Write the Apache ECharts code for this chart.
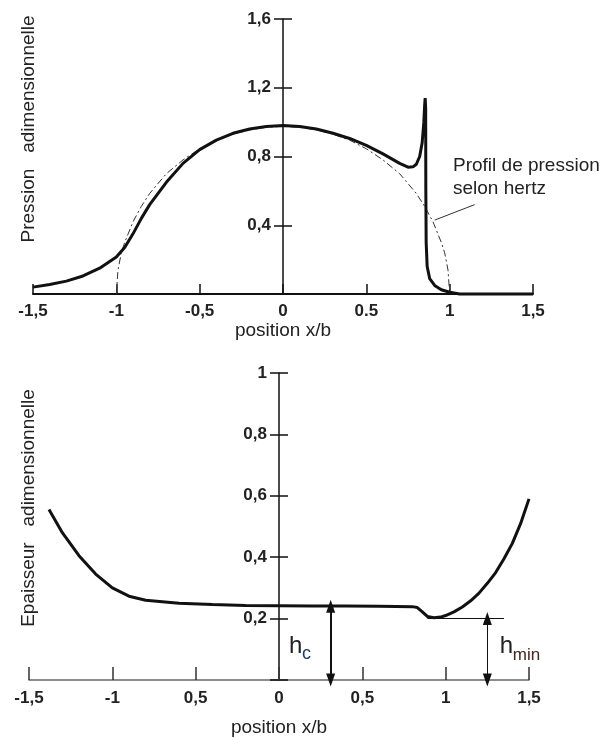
<!DOCTYPE html>
<html><head><meta charset="utf-8">
<script src="https://cdn.jsdelivr.net/npm/echarts@6/dist/echarts.min.js"></script>
<style>html,body{margin:0;padding:0;background:#fff}#c{width:605px;height:738px}</style>
</head><body><div id="c"></div>
<script>
// ---- tick labels ----
const xTickLabelsTop = ['-1,5','-1','-0,5','0','0.5','1','1,5'];
const yTickLabelsTop = ['','0,4','0,8','1,2','1,6'];
const xTickLabelsBottom = ['-1,5','-1','0,5','0','0,5','1','1,5'];
const yTickLabelsBottom = ['','0,2','0,4','0,6','0,8','1'];

// ---- top chart: EHL pressure ----
const ehlX = [-1.5,-1.4,-1.3,-1.2,-1.1,-1.0,-0.95,-0.9,-0.85,-0.8,-0.7,-0.6,-0.5,-0.4,-0.3,-0.2,-0.1,0,0.1,0.2,0.3,0.4,0.5,0.6,0.7,0.75,0.78,0.8,0.82,0.835,0.845,0.85,0.853,0.856,0.857,0.859,0.865,0.88,0.91,0.95,1.0,1.06,1.5];
const ehlP = [0.04,0.055,0.075,0.105,0.15,0.215,0.27,0.35,0.44,0.52,0.65,0.76,0.84,0.895,0.935,0.96,0.975,0.98,0.975,0.96,0.935,0.905,0.865,0.815,0.76,0.738,0.74,0.755,0.8,0.88,1.0,1.1,1.14,1.08,0.6,0.3,0.16,0.09,0.05,0.025,0.01,0,0];

// ---- top chart: Hertz pressure ----
const hertzX = [-1,-0.99,-0.97,-0.95,-0.9,-0.85,-0.8,-0.7,-0.6,-0.5,-0.4,-0.3,-0.2,-0.1,0,0.1,0.2,0.3,0.4,0.5,0.6,0.7,0.8,0.85,0.9,0.95,0.97,0.99,1];
const hertzP = [0,0.14,0.24,0.3,0.42,0.51,0.585,0.7,0.78,0.845,0.895,0.93,0.955,0.97,0.975,0.97,0.955,0.93,0.895,0.845,0.78,0.7,0.585,0.51,0.42,0.3,0.24,0.14,0];

// ---- bottom chart: film thickness ----
const filmX = [-1.38,-1.3,-1.2,-1.1,-1.0,-0.9,-0.8,-0.6,-0.4,-0.2,0,0.2,0.4,0.6,0.8,0.83,0.86,0.89,0.93,0.97,1.0,1.05,1.1,1.15,1.2,1.25,1.3,1.35,1.4,1.45,1.5];
const filmH = [0.555,0.48,0.405,0.345,0.3,0.273,0.26,0.25,0.246,0.243,0.242,0.241,0.241,0.24,0.239,0.236,0.222,0.207,0.203,0.205,0.21,0.222,0.238,0.258,0.283,0.315,0.35,0.395,0.445,0.51,0.59];

// ---- annotations (data coordinates) ----
const hcX = 0.31, hcValue = 0.24;
const hminX = 1.25, hminValue = 0.2;
const hminLineX = [0.89, 1.35];
const leaderFrom = [0.91, 0.43], leaderTo = [1.15, 0.52];

const FONT = 'Liberation Sans, Arial, sans-serif';
const zip = (xs, ys) => xs.map((x, i) => [x, ys[i]]);
const lab = (arr, min, step) => v => { const i = Math.round((v - min) / step); return arr[i] !== undefined ? arr[i] : ''; };

const tickLabelStyle = { fontFamily: FONT, fontSize: 17, fontWeight: 'bold', color: '#222' };
const GRID = [
  { left: 33, right: 72, top: 19, bottom: 444, containLabel: false, outerBoundsMode: 'none' },
  { left: 29, right: 76, top: 373, bottom: 58, containLabel: false, outerBoundsMode: 'none' }
];

function yPair(gridIndex, max, interval, labels) {
  return [
    { type: 'value', gridIndex, position: 'left', min: 0, max, interval,
      axisLine: { show: true, onZero: false, lineStyle: { color: '#111', width: 1.5 } },
      axisTick: { show: true, inside: false, length: 9, lineStyle: { color: '#111', width: 1.5 } },
      axisLabel: Object.assign({ margin: 12, formatter: lab(labels, 0, interval) }, tickLabelStyle),
      splitLine: { show: false } },
    { type: 'value', gridIndex, position: 'left', min: 0, max, interval,
      axisLine: { show: false, onZero: false },
      axisTick: { show: true, inside: true, length: 9, lineStyle: { color: '#111', width: 1.5 } },
      axisLabel: { show: false }, splitLine: { show: false } }
  ];
}

const chart = echarts.init(document.getElementById('c'), null, { renderer: 'canvas' });
const option = {
  animation: false,
  backgroundColor: '#fff',
  grid: GRID,
  xAxis: [
    { type: 'value', gridIndex: 0, min: -1.5, max: 1.5, interval: 0.5,
      axisLine: { onZero: false, lineStyle: { color: '#111', width: 2 } },
      axisTick: { inside: true, length: 10, lineStyle: { color: '#111', width: 1.5 } },
      axisLabel: Object.assign({ margin: 9, formatter: lab(xTickLabelsTop, -1.5, 0.5) }, tickLabelStyle),
      splitLine: { show: false },
      name: 'position x/b', nameLocation: 'middle', nameGap: 27,
      nameTextStyle: { fontFamily: FONT, fontSize: 19, color: '#222' } },
    { type: 'value', gridIndex: 1, min: -1.5, max: 1.5, interval: 0.5,
      axisLine: { onZero: false, lineStyle: { color: '#666', width: 1.5 } },
      axisTick: { inside: true, length: 13, lineStyle: { color: '#333', width: 1.5 } },
      axisLabel: Object.assign({ margin: 10, formatter: lab(xTickLabelsBottom, -1.5, 0.5) }, tickLabelStyle),
      splitLine: { show: false },
      name: 'position x/b', nameLocation: 'middle', nameGap: 38,
      nameTextStyle: { fontFamily: FONT, fontSize: 19, color: '#222' } }
  ],
  yAxis: [].concat(yPair(0, 1.6, 0.4, yTickLabelsTop), yPair(1, 1, 0.2, yTickLabelsBottom)),
  series: [
    { type: 'line', name: 'hertz', xAxisIndex: 0, yAxisIndex: 0, data: zip(hertzX, hertzP),
      showSymbol: false, clip: false, z: 2,
      lineStyle: { color: '#333', width: 1, type: [7, 3, 2, 3] } },
    { type: 'line', name: 'ehl', xAxisIndex: 0, yAxisIndex: 0, data: zip(ehlX, ehlP),
      showSymbol: false, clip: false, z: 3,
      lineStyle: { color: '#111', width: 3 },
      markLine: { silent: true, symbol: ['none', 'none'], label: { show: false },
        lineStyle: { color: '#333', width: 1, type: 'solid' },
        data: [[{ coord: leaderFrom }, { coord: leaderTo }]] } },
    { type: 'line', name: 'film', xAxisIndex: 1, yAxisIndex: 2, data: zip(filmX, filmH),
      showSymbol: false, clip: false, z: 3,
      lineStyle: { color: '#111', width: 3 },
      markLine: { silent: true, label: { show: false }, symbol: ['none', 'none'],
        data: [
          [{ coord: [hcX, 0], symbol: 'triangle', symbolSize: [9, 13], lineStyle: { color: '#111', width: 2, type: 'solid' } },
           { coord: [hcX, hcValue], symbol: 'triangle', symbolSize: [9, 13] }],
          [{ coord: [hminX, 0], symbol: 'triangle', symbolSize: [9, 13], lineStyle: { color: '#111', width: 1, type: 'solid' } },
           { coord: [hminX, hminValue], symbol: 'triangle', symbolSize: [9, 13] }],
          [{ coord: [hminLineX[0], hminValue], lineStyle: { color: '#111', width: 1.2, type: 'solid' } },
           { coord: [hminLineX[1], hminValue] }]
        ] } }
  ]
};
chart.setOption(option);

// move the y axes onto x = 0 of each chart
const x0Top = chart.convertToPixel({ xAxisIndex: 0 }, 0);
const x0Bot = chart.convertToPixel({ xAxisIndex: 1 }, 0);
const offTop = GRID[0].left - x0Top, offBot = GRID[1].left - x0Bot;
chart.setOption({ yAxis: [{ offset: offTop }, { offset: offTop }, { offset: offBot }, { offset: offBot }] });

// annotations positioned from the axes
const P = (g, x, y) => chart.convertToPixel({ gridIndex: g }, [x, y]);
const hcPos = P(1, 0.06, 0.1);
const hminPos = P(1, 1.325, 0.1);
const profPos = P(0, 1.02, 0.68);
chart.setOption({
  graphic: [
    { type: 'text', x: 29, y: 129, rotation: Math.PI / 2,
      style: { text: 'Pression   adimensionnelle', fontFamily: FONT, fontSize: 19, fill: '#222', align: 'center', verticalAlign: 'middle' } },
    { type: 'text', x: 29, y: 508, rotation: Math.PI / 2,
      style: { text: 'Epaisseur   adimensionnelle', fontFamily: FONT, fontSize: 19, fill: '#222', align: 'center', verticalAlign: 'middle' } },
    { type: 'text', x: profPos[0], y: profPos[1],
      style: { text: 'Profil de pression\nselon hertz', fontFamily: FONT, fontSize: 19, lineHeight: 23, fill: '#222', align: 'left', verticalAlign: 'middle' } },
    { type: 'text', x: hcPos[0], y: hcPos[1] - 3,
      style: { text: 'h', fontFamily: FONT, fontSize: 24, fill: '#222', align: 'left', verticalAlign: 'middle' } },
    { type: 'text', x: hcPos[0] + 13, y: hcPos[1] + 5,
      style: { text: 'c', fontFamily: FONT, fontSize: 18, fill: '#1f3a6e', align: 'left', verticalAlign: 'middle' } },
    { type: 'text', x: hminPos[0], y: hminPos[1] - 3,
      style: { text: 'h', fontFamily: FONT, fontSize: 24, fill: '#222', align: 'left', verticalAlign: 'middle' } },
    { type: 'text', x: hminPos[0] + 13, y: hminPos[1] + 6,
      style: { text: 'min', fontFamily: FONT, fontSize: 17, fill: '#4a2222', align: 'left', verticalAlign: 'middle' } }
  ]
});
</script></body></html>
